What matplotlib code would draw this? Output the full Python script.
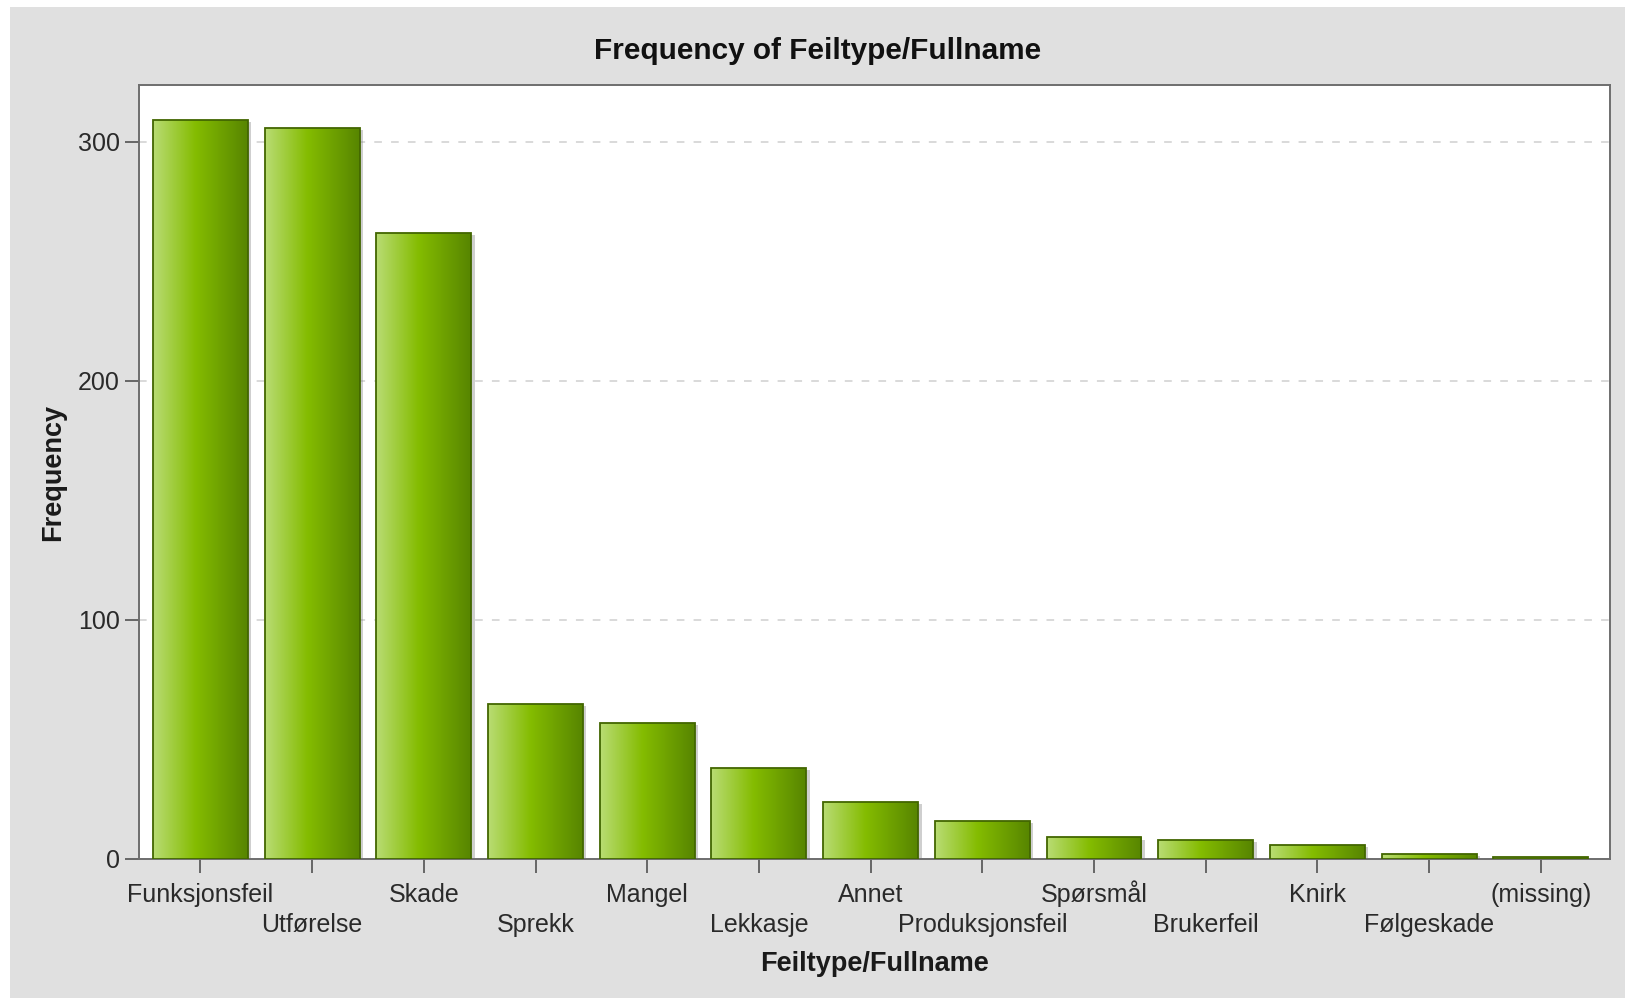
import numpy as np
import matplotlib
matplotlib.use("Agg")
import matplotlib.pyplot as plt
import matplotlib.patheffects as pe
import matplotlib.transforms as mtransforms
from matplotlib.colors import LinearSegmentedColormap
from matplotlib.patches import Rectangle

categories = ['Funksjonsfeil', 'Utførelse', 'Skade', 'Sprekk', 'Mangel', 'Lekkasje',
              'Annet', 'Produksjonsfeil', 'Spørsmål', 'Brukerfeil', 'Knirk',
              'Følgeskade', '(missing)']
counts = [309, 306, 262, 65, 57, 38, 24, 16, 9, 8, 6, 2, 1]
yticks = [0, 100, 200, 300]

plt.rcParams['font.family'] = ['Liberation Sans', 'DejaVu Sans']

fig = plt.figure(figsize=(16.25, 10), dpi=100)
fig.patch.set_facecolor('white')
# grey panel behind the chart
fig.patches.append(Rectangle((10 / 1625, 0.002), 1.0, 0.991, transform=fig.transFigure,
                             facecolor='#e0e0e0', edgecolor='none', zorder=-10))

ax = fig.add_axes([139 / 1625, 0.141, (1610 - 139) / 1625, 0.774])
ax.set_facecolor('white')

x = np.arange(len(categories))
width = 0.85

green = LinearSegmentedColormap.from_list(
    'green', [(0.0, '#b9dc74'), (0.45, '#84bc00'), (1.0, '#578500')])
grad = np.linspace(0, 1, 256).reshape(1, -1)

bars = ax.bar(x, counts, width=width, color='#84bc00', edgecolor='none', zorder=2,
              path_effects=[pe.SimplePatchShadow(offset=(2.5, -1.5), shadow_rgbFace='#777777',
                                                 alpha=0.35), pe.Normal()])
for b in bars:
    x0, h, w = b.get_x(), b.get_height(), b.get_width()
    im = ax.imshow(grad, extent=(x0, x0 + w, 0, h), aspect='auto', cmap=green,
                   zorder=3, interpolation='bicubic')
    im.set_clip_path(b)
ax.bar(x, counts, width=width, facecolor='none', edgecolor='#426600', linewidth=1.3, zorder=4)

ax.set_xlim(-0.55, 12.62)
ax.set_ylim(0, 323.8)

ax.yaxis.grid(True, linestyle=(0, (5, 6)), color='#cfcfcf', linewidth=1.1, zorder=0)
ax.set_axisbelow(True)

ax.set_yticks(yticks)
ax.set_yticklabels([str(v) for v in yticks])
ax.set_xticks(x)
ax.set_xticklabels([])
ax.tick_params(axis='both', labelsize=18, colors='#666666', labelcolor='#2a2a2a',
               length=10, width=1.4, direction='out')
ax.tick_params(axis='y', pad=4)

# staggered category labels, aligned on their baselines
trans = mtransforms.blended_transform_factory(ax.transData, ax.transAxes)
for i, c in enumerate(categories):
    ax.text(x[i], -0.0556 if i % 2 == 0 else -0.0943, c, transform=trans,
            ha='center', va='baseline', fontsize=18, color='#2a2a2a')

for s in ax.spines.values():
    s.set_color('#6e6e6e')
    s.set_linewidth(1.4)

ax.text(0.5, -0.136, 'Feiltype/Fullname', transform=ax.transAxes, ha='center', va='center',
        fontsize=19.5, fontweight='bold', color='#1a1a1a')
ax.set_ylabel('Frequency', fontsize=19.5, fontweight='bold', color='#1a1a1a', labelpad=8)
fig.text(0.503, 0.949, 'Frequency of Feiltype/Fullname', ha='center', va='center',
         fontsize=21.4, fontweight='bold', color='#111111')

fig.savefig('out.png', dpi=100)
